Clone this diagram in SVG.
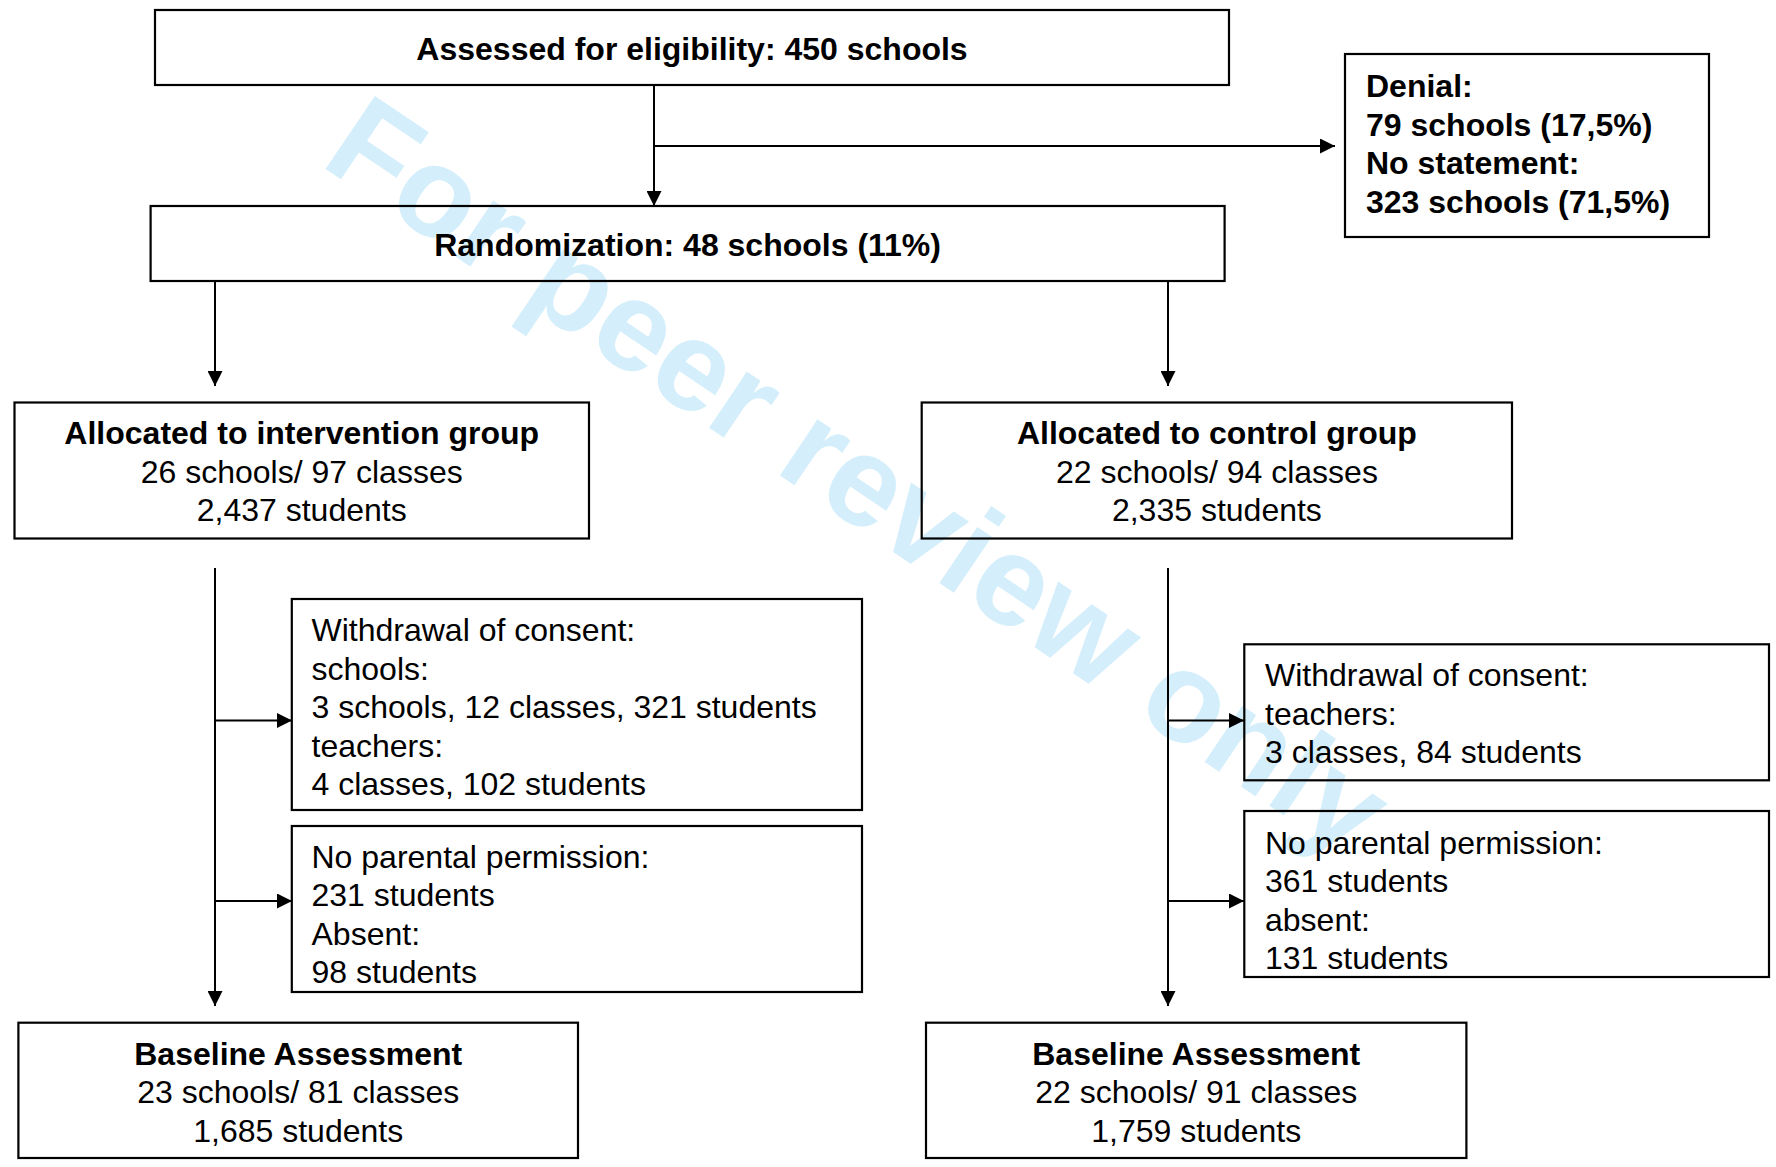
<svg xmlns="http://www.w3.org/2000/svg" width="1776" height="1167" viewBox="0 0 1776 1167">
  <defs>
    <marker id="arrow" markerWidth="15" markerHeight="15" refX="15" refY="7.5" orient="auto" markerUnits="userSpaceOnUse">
      <path d="M0,0 L15,7.5 L0,15 Z" fill="#000"/>
    </marker>
  </defs>
  <style>
    .box{fill:none;stroke:#000;stroke-width:2.2}
    .t{font-family:"Liberation Sans",Arial,Helvetica,sans-serif;font-size:32px;fill:#000}
    .b{font-weight:bold}
    .c{text-anchor:middle}
    .wire{fill:none;stroke:#000;stroke-width:2;marker-end:url(#arrow)}
    .wm{font-family:"Liberation Sans",Arial,Helvetica,sans-serif;font-weight:bold;font-size:128px;fill:#d4effb}
  </style>

  <rect x="0" y="0" width="1776" height="1167" fill="#fff"/>

  <!-- watermark -->
  <text class="wm" transform="translate(318.5,164.3) rotate(34)">For peer review only</text>

  <!-- connectors -->
  <g id="connectors">
    <path class="wire" d="M654,85 V206"/>
    <path class="wire" d="M654,146 H1335"/>
    <path class="wire" d="M215,281 V386"/>
    <path class="wire" d="M1168,281 V386"/>
    <path class="wire" d="M215,568 V1006"/>
    <path class="wire" d="M215,720.5 H292"/>
    <path class="wire" d="M215,901 H292"/>
    <path class="wire" d="M1168,568 V1006"/>
    <path class="wire" d="M1168,720.5 H1244"/>
    <path class="wire" d="M1168,901 H1244"/>
  </g>

  <g id="assessed">
    <rect class="box" x="155" y="10" width="1074" height="75"/>
    <text class="t b c" x="692" y="60">Assessed for eligibility: 450 schools</text>
  </g>

  <g id="excluded">
    <rect class="box" x="1345" y="54" width="364" height="183"/>
    <text class="t b" x="1366" y="97">Denial:</text>
    <text class="t b" x="1366" y="135.5">79 schools (17,5%)</text>
    <text class="t b" x="1366" y="174">No statement:</text>
    <text class="t b" x="1366" y="212.5">323 schools (71,5%)</text>
  </g>

  <g id="randomization">
    <rect class="box" x="150.6" y="206" width="1074" height="75"/>
    <text class="t b c" x="687.6" y="255.7">Randomization: 48 schools (11%)</text>
  </g>

  <g id="intervention">
    <rect class="box" x="14.5" y="402.5" width="574.5" height="136"/>
    <text class="t b c" x="301.7" y="444">Allocated to intervention group</text>
    <text class="t c" x="301.7" y="482.5">26 schools/ 97 classes</text>
    <text class="t c" x="301.7" y="521">2,437 students</text>
  </g>

  <g id="control">
    <rect class="box" x="921.7" y="402.5" width="590.3" height="136"/>
    <text class="t b c" x="1216.9" y="444">Allocated to control group</text>
    <text class="t c" x="1216.9" y="482.5">22 schools/ 94 classes</text>
    <text class="t c" x="1216.9" y="521">2,335 students</text>
  </g>

  <g id="withdrawal-intervention">
    <rect class="box" x="291.8" y="599" width="570.2" height="211"/>
    <text class="t" x="311.5" y="641">Withdrawal of consent:</text>
    <text class="t" x="311.5" y="679.5">schools:</text>
    <text class="t" x="311.5" y="718">3 schools, 12 classes, 321 students</text>
    <text class="t" x="311.5" y="756.5">teachers:</text>
    <text class="t" x="311.5" y="795">4 classes, 102 students</text>
  </g>

  <g id="missing-intervention">
    <rect class="box" x="291.8" y="826" width="570.2" height="166"/>
    <text class="t" x="311.5" y="867.5">No parental permission:</text>
    <text class="t" x="311.5" y="906">231 students</text>
    <text class="t" x="311.5" y="944.5">Absent:</text>
    <text class="t" x="311.5" y="983">98 students</text>
  </g>

  <g id="withdrawal-control">
    <rect class="box" x="1244.3" y="644.3" width="524.7" height="136"/>
    <text class="t" x="1265" y="686">Withdrawal of consent:</text>
    <text class="t" x="1265" y="724.5">teachers:</text>
    <text class="t" x="1265" y="763">3 classes, 84 students</text>
  </g>

  <g id="missing-control">
    <rect class="box" x="1244.3" y="811" width="524.7" height="166"/>
    <text class="t" x="1265" y="853.5">No parental permission:</text>
    <text class="t" x="1265" y="892">361 students</text>
    <text class="t" x="1265" y="930.5">absent:</text>
    <text class="t" x="1265" y="969">131 students</text>
  </g>

  <g id="baseline-intervention">
    <rect class="box" x="18.4" y="1022.7" width="559.6" height="135.3"/>
    <text class="t b c" x="298.2" y="1064.5">Baseline Assessment</text>
    <text class="t c" x="298.2" y="1103">23 schools/ 81 classes</text>
    <text class="t c" x="298.2" y="1141.5">1,685 students</text>
  </g>

  <g id="baseline-control">
    <rect class="box" x="926" y="1022.7" width="540.4" height="135.3"/>
    <text class="t b c" x="1196.2" y="1064.5">Baseline Assessment</text>
    <text class="t c" x="1196.2" y="1103">22 schools/ 91 classes</text>
    <text class="t c" x="1196.2" y="1141.5">1,759 students</text>
  </g>
</svg>
